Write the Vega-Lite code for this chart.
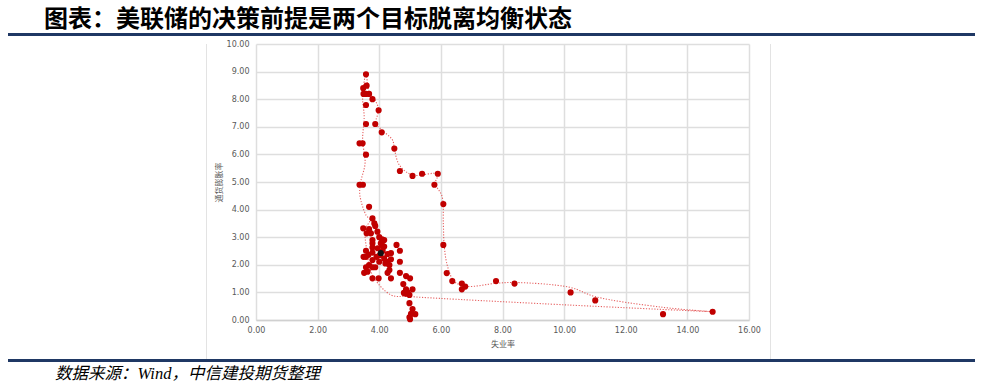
{
  "$schema": "https://vega.github.io/schema/vega-lite/v6.json",
  "padding": {"left": 8, "top": 8, "right": 10, "bottom": 0},
  "background": "white",
  "title": {"text": "图表：美联储的决策前提是两个目标脱离均衡状态", "anchor": "start", "fontSize": 24, "fontWeight": "bold", "font": "Noto Sans CJK SC", "color": "#000000", "dx": 36, "offset": 1},
  "config": {"concat": {"spacing": 0}, "view": {"stroke": null}},
  "datasets": {
    "pts": [
      {"u": 3.57, "p": 8.90, "g": "a"}, {"u": 3.59, "p": 8.49, "g": "a"}, {"u": 3.48, "p": 8.40, "g": "a"},
      {"u": 3.49, "p": 8.19, "g": "a"}, {"u": 3.57, "p": 8.19, "g": "a"}, {"u": 3.67, "p": 8.19, "g": "a"},
      {"u": 3.78, "p": 8.00, "g": "a"}, {"u": 3.57, "p": 7.79, "g": "a"}, {"u": 3.98, "p": 7.60, "g": "a"},
      {"u": 3.57, "p": 7.10, "g": "a"}, {"u": 3.87, "p": 7.10, "g": "a"}, {"u": 4.08, "p": 6.80, "g": "a"},
      {"u": 3.36, "p": 6.40, "g": "a"}, {"u": 3.46, "p": 6.40, "g": "a"}, {"u": 4.49, "p": 6.21, "g": "a"},
      {"u": 3.57, "p": 5.99, "g": "a"}, {"u": 4.67, "p": 5.40, "g": "a"}, {"u": 5.08, "p": 5.22, "g": "a"},
      {"u": 5.39, "p": 5.30, "g": "a"}, {"u": 5.90, "p": 5.30, "g": "a"}, {"u": 5.79, "p": 4.90, "g": "a"},
      {"u": 3.36, "p": 4.90, "g": "a"}, {"u": 3.47, "p": 4.90, "g": "a"}, {"u": 6.08, "p": 4.20, "g": "a"},
      {"u": 6.08, "p": 2.72, "g": "a"}, {"u": 6.19, "p": 1.70, "g": "a"}, {"u": 6.37, "p": 1.41, "g": "a"},
      {"u": 6.68, "p": 1.32, "g": "a"}, {"u": 6.79, "p": 1.21, "g": "a"}, {"u": 6.68, "p": 1.11, "g": "a"},
      {"u": 7.79, "p": 1.41, "g": "a"}, {"u": 8.39, "p": 1.32, "g": "a"}, {"u": 10.21, "p": 1.00, "g": "a"},
      {"u": 11.01, "p": 0.71, "g": "a"}, {"u": 13.21, "p": 0.21, "g": "a"}, {"u": 14.82, "p": 0.30, "g": "a"},
      {"u": 3.67, "p": 4.10, "g": "a"}, {"u": 3.78, "p": 3.68, "g": "a"}, {"u": 3.84, "p": 3.50, "g": "a"},
      {"u": 3.87, "p": 3.41, "g": "a"}, {"u": 3.48, "p": 3.32, "g": "a"}, {"u": 3.67, "p": 3.29, "g": "a"},
      {"u": 3.94, "p": 3.20, "g": "a"}, {"u": 3.59, "p": 3.14, "g": "a"}, {"u": 3.73, "p": 3.14, "g": "a"},
      {"u": 4.00, "p": 3.00, "g": "a"}, {"u": 4.09, "p": 2.92, "g": "a"}, {"u": 4.16, "p": 2.90, "g": "a"},
      {"u": 3.78, "p": 2.90, "g": "a"}, {"u": 3.78, "p": 2.78, "g": "a"}, {"u": 4.05, "p": 2.78, "g": "a"},
      {"u": 4.16, "p": 2.66, "g": "a"}, {"u": 4.56, "p": 2.72, "g": "a"}, {"u": 3.78, "p": 2.63, "g": "a"},
      {"u": 4.11, "p": 2.51, "g": "a"}, {"u": 4.67, "p": 2.51, "g": "a"}, {"u": 3.57, "p": 2.51, "g": "a"},
      {"u": 3.78, "p": 2.44, "g": "a"}, {"u": 4.27, "p": 2.39, "g": "a"}, {"u": 3.65, "p": 2.36, "g": "a"},
      {"u": 3.49, "p": 2.29, "g": "a"}, {"u": 3.57, "p": 2.29, "g": "a"}, {"u": 3.91, "p": 2.29, "g": "a"},
      {"u": 4.16, "p": 2.23, "g": "a"}, {"u": 4.38, "p": 2.20, "g": "a"}, {"u": 3.78, "p": 2.17, "g": "a"},
      {"u": 4.00, "p": 2.11, "g": "a"}, {"u": 4.27, "p": 2.11, "g": "a"}, {"u": 4.67, "p": 2.11, "g": "a"},
      {"u": 4.33, "p": 1.99, "g": "a"}, {"u": 3.67, "p": 1.99, "g": "a"}, {"u": 3.57, "p": 1.91, "g": "a"},
      {"u": 3.78, "p": 1.91, "g": "a"}, {"u": 3.87, "p": 1.91, "g": "a"}, {"u": 4.33, "p": 1.81, "g": "a"},
      {"u": 3.62, "p": 1.75, "g": "a"}, {"u": 3.51, "p": 1.71, "g": "a"}, {"u": 4.27, "p": 1.71, "g": "a"},
      {"u": 4.67, "p": 1.71, "g": "a"}, {"u": 3.78, "p": 1.51, "g": "a"}, {"u": 3.98, "p": 1.51, "g": "a"},
      {"u": 4.38, "p": 1.51, "g": "a"}, {"u": 4.87, "p": 1.59, "g": "a"}, {"u": 5.00, "p": 1.51, "g": "a"},
      {"u": 4.78, "p": 1.30, "g": "a"}, {"u": 4.87, "p": 1.11, "g": "a"}, {"u": 5.08, "p": 1.11, "g": "a"},
      {"u": 4.80, "p": 0.98, "g": "a"}, {"u": 4.87, "p": 0.95, "g": "a"}, {"u": 4.92, "p": 1.00, "g": "a"},
      {"u": 4.85, "p": 1.02, "g": "a"}, {"u": 4.98, "p": 0.91, "g": "a"}, {"u": 4.98, "p": 0.61, "g": "a"},
      {"u": 5.08, "p": 0.40, "g": "a"}, {"u": 5.03, "p": 0.22, "g": "a"}, {"u": 5.17, "p": 0.21, "g": "a"},
      {"u": 4.98, "p": 0.10, "g": "a"}, {"u": 5.00, "p": 0.03, "g": "a"}, {"u": 4.02, "p": 2.35, "g": "a"},
      {"u": 4.20, "p": 2.05, "g": "a"}, {"u": 3.95, "p": 2.60, "g": "a"}, {"u": 4.10, "p": 2.70, "g": "a"},
      {"u": 4.38, "p": 2.42, "g": "a"},
      {"u": 4.05, "p": 2.42, "g": "b"}
    ],
    "path": [
      {"i": 1, "u": 14.82, "p": 0.30}, {"i": 2, "u": 13.2, "p": 0.46}, {"i": 3, "u": 11.0, "p": 0.85},
      {"i": 4, "u": 10.2, "p": 1.18}, {"i": 5, "u": 8.39, "p": 1.36}, {"i": 6, "u": 7.79, "p": 1.33},
      {"i": 7, "u": 6.85, "p": 1.22}, {"i": 8, "u": 6.44, "p": 1.39}, {"i": 9, "u": 6.22, "p": 1.93},
      {"i": 10, "u": 6.11, "p": 2.66}, {"i": 11, "u": 6.08, "p": 3.5}, {"i": 12, "u": 6.04, "p": 4.47},
      {"i": 13, "u": 5.82, "p": 4.95}, {"i": 14, "u": 5.9, "p": 5.29}, {"i": 15, "u": 5.08, "p": 5.25},
      {"i": 16, "u": 4.65, "p": 5.62}, {"i": 17, "u": 4.49, "p": 6.21}, {"i": 18, "u": 4.43, "p": 6.52},
      {"i": 19, "u": 4.09, "p": 6.88}, {"i": 20, "u": 3.89, "p": 7.13}, {"i": 21, "u": 3.98, "p": 7.61},
      {"i": 22, "u": 3.89, "p": 7.91}, {"i": 23, "u": 3.67, "p": 8.27}, {"i": 24, "u": 3.57, "p": 8.9},
      {"i": 25, "u": 3.46, "p": 8.09}, {"i": 26, "u": 3.51, "p": 7.37}, {"i": 27, "u": 3.46, "p": 6.52},
      {"i": 28, "u": 3.54, "p": 5.68}, {"i": 29, "u": 3.40, "p": 5.01}, {"i": 30, "u": 3.37, "p": 4.53},
      {"i": 31, "u": 3.57, "p": 3.8}, {"i": 32, "u": 3.70, "p": 3.62}, {"i": 33, "u": 3.55, "p": 3.3},
      {"i": 34, "u": 3.6, "p": 2.5}, {"i": 35, "u": 3.78, "p": 1.63}, {"i": 36, "u": 4.38, "p": 0.91},
      {"i": 37, "u": 4.98, "p": 0.85}, {"i": 38, "u": 10.2, "p": 0.54}, {"i": 39, "u": 14.82, "p": 0.30}
    ]
  },
  "vconcat": [
    {"width": 967, "height": 3, "data": {"values": []}, "mark": "point", "encoding": {}, "view": {"fill": "#1f3864", "stroke": null}},
    {"width": 10, "height": 4, "data": {"values": []}, "mark": "point", "encoding": {}, "view": {"stroke": null}},
    {
      "hconcat": [
        {"width": 198, "height": 1, "data": {"values": []}, "mark": "point", "encoding": {}, "view": {"stroke": null}},
        {"width": 1, "height": 315, "data": {"values": []}, "mark": "point", "encoding": {}, "view": {"fill": "#e3e3e3", "stroke": null}},
        {"width": 8, "height": 1, "data": {"values": []}, "mark": "point", "encoding": {}, "view": {"stroke": null}},
        {
          "width": 493, "height": 276,
          "view": {"stroke": null},
          "encoding": {
            "x": {"field": "u", "type": "quantitative", "title": "失业率",
              "scale": {"domain": [0, 16], "nice": false},
              "axis": {"values": [0, 2, 4, 6, 8, 10, 12, 14, 16], "format": ".2f", "labelFontSize": 8, "labelColor": "#595959", "labelFont": "DejaVu Sans", "labelOverlap": false, "labelFlush": false, "ticks": false, "labelPadding": 6, "domainColor": "#d0d0d0", "domainWidth": 1.5, "gridColor": "#dedede", "gridWidth": 1.5, "titleFontSize": 8, "titleFontWeight": "normal", "titleColor": "#595959", "titlePadding": 6, "titleFont": "Noto Sans CJK SC"}},
            "y": {"field": "p", "type": "quantitative", "title": "通货膨胀率",
              "scale": {"domain": [0, 10], "nice": false},
              "axis": {"values": [0, 1, 2, 3, 4, 5, 6, 7, 8, 9, 10], "format": ".2f", "labelFontSize": 8, "labelColor": "#595959", "labelFont": "DejaVu Sans", "labelOverlap": false, "labelFlush": false, "ticks": false, "labelPadding": 7, "domain": false, "gridColor": "#dedede", "gridWidth": 1.5, "titleFontSize": 8, "titleFontWeight": "normal", "titleColor": "#595959", "titlePadding": 3, "titleFont": "Noto Sans CJK SC"}}
          },
          "layer": [
            {
              "data": {"name": "path"},
              "mark": {"type": "line", "interpolate": "catmull-rom", "color": "#e03a3a", "strokeWidth": 1.1, "strokeDash": [1.2, 1.6], "opacity": 0.8},
              "encoding": {
                "order": {"field": "i", "type": "quantitative"}
              }
            },
            {
              "data": {"name": "pts"},
              "mark": {"type": "circle", "size": 38, "opacity": 1},
              "encoding": {
                "color": {"field": "g", "type": "nominal", "scale": {"domain": ["a", "b"], "range": ["#c00000", "#111111"]}, "legend": null},
                "order": {"field": "g", "type": "nominal"}
              }
            }
          ]
        },
        {"width": 9, "height": 1, "data": {"values": []}, "mark": "point", "encoding": {}, "view": {"stroke": null}},
        {"width": 1, "height": 315, "data": {"values": []}, "mark": "point", "encoding": {}, "view": {"fill": "#e3e3e3", "stroke": null}}
      ]
    },
    {"width": 967, "height": 3, "data": {"values": []}, "mark": "point", "encoding": {}, "view": {"fill": "#1f3864", "stroke": null}},
    {"width": 967, "height": 1, "data": {"values": []}, "mark": "point", "encoding": {}, "view": {"stroke": null},
      "title": {"text": "数据来源：Wind，中信建投期货整理", "orient": "bottom", "anchor": "start", "dx": 47, "offset": 3, "fontSize": 16.5, "fontStyle": "italic", "fontWeight": "normal", "font": "Liberation Serif, Noto Sans CJK SC", "color": "#000000"}}
  ]
}
